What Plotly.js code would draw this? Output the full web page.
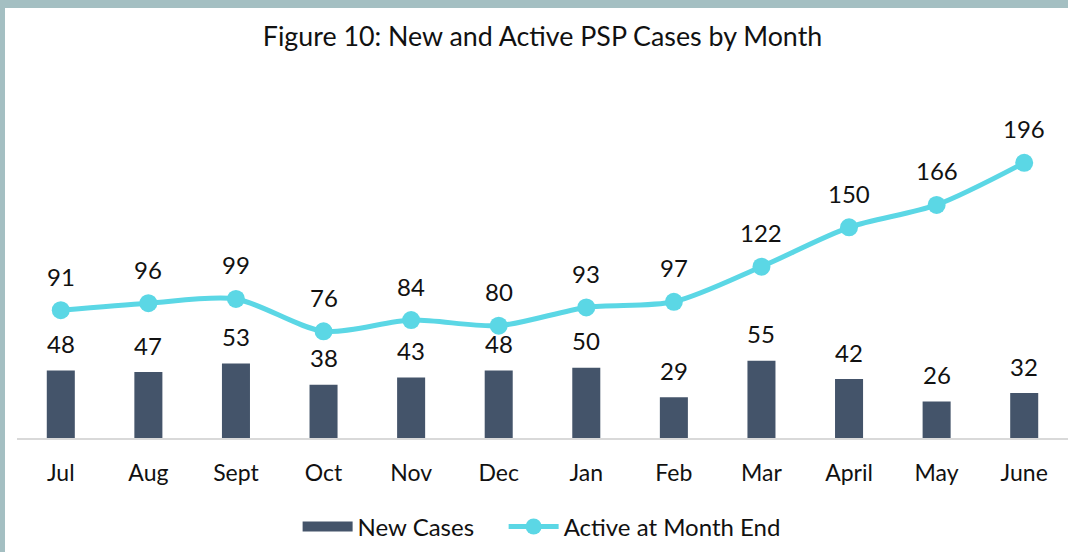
<!DOCTYPE html>
<html>
<head>
<meta charset="utf-8">
<script src="https://cdn.plot.ly/plotly-3.0.1.min.js"></script>
<style>
html,body{margin:0;padding:0;background:#ffffff;}
#frame{position:absolute;left:0;top:0;width:1068px;height:552px;background:#A4BFC2;}
#chart{position:absolute;left:5px;top:8px;width:1063px;height:544px;background:#ffffff;}
</style>
</head>
<body>
<div id="frame"></div>
<div id="chart"></div>
<script>
const months = ["Jul","Aug","Sept","Oct","Nov","Dec","Jan","Feb","Mar","April","May","June"];
const newCases = [48,47,53,38,43,48,50,29,55,42,26,32];
const activeCases = [91,96,99,76,84,80,93,97,122,150,166,196];

const FONT = "Lato, 'Open Sans', sans-serif";
const barColor = "#44546A";
const lineColor = "#5BD7E5";

const traces = [
  {
    type: "bar", name: "New Cases", x: months, y: newCases,
    marker: {color: barColor}, width: 0.32, showlegend: false
  },
  {
    // legend entry for the bars, drawn as a wide dark band like the original
    type: "scatter", mode: "lines", name: "New Cases\u00a0\u00a0\u00a0\u00a0",
    x: [months[0]], y: [null],
    line: {color: barColor, width: 14}, showlegend: true, hoverinfo: "skip"
  },
  {
    type: "scatter", mode: "lines+markers", name: "Active at Month End",
    x: months, y: activeCases,
    line: {color: lineColor, width: 5, shape: "spline", smoothing: 0.8},
    marker: {color: lineColor, size: 18}
  }
];

const annotations = [];
months.forEach((m, i) => {
  annotations.push({x: m, y: newCases[i], text: String(newCases[i]), showarrow: false,
    yshift: 27, yanchor: "middle", font: {family: FONT, size: 24, color: "#111"}});
  annotations.push({x: m, y: activeCases[i], text: String(activeCases[i]), showarrow: false,
    yshift: 34, yanchor: "middle", font: {family: FONT, size: 24, color: "#111"}});
});

const layout = {
  width: 1063, height: 544,
  margin: {l: 12, r: 0, t: 92, b: 114},
  paper_bgcolor: "#ffffff", plot_bgcolor: "#ffffff",
  font: {family: FONT, size: 20, color: "#111"},
  title: {text: "Figure 10: New and Active PSP Cases by Month", x: 0.5, xanchor: "center",
    xref: "paper", y: 1 - 29/544, yref: "container", yanchor: "middle",
    font: {family: FONT, size: 26.8, color: "#111"}},
  xaxis: {type: "category", range: [-0.5, 11.5], showline: true, linecolor: "#D9D9D9", linewidth: 2,
    ticks: "", ticklabelstandoff: 13, showgrid: false, zeroline: false,
    tickfont: {family: FONT, size: 23, color: "#111"}, fixedrange: true},
  yaxis: {range: [0, 240.7], visible: false, showgrid: false, zeroline: false, fixedrange: true},
  showlegend: true,
  legend: {orientation: "h", x: 0.267, xanchor: "left", y: -0.263, yanchor: "middle",
    font: {family: FONT, size: 24, color: "#111"}, itemwidth: 50, traceorder: "normal"},
  annotations: annotations
};

Plotly.newPlot("chart", traces, layout, {displayModeBar: false, staticPlot: true});
</script>
</body>
</html>
